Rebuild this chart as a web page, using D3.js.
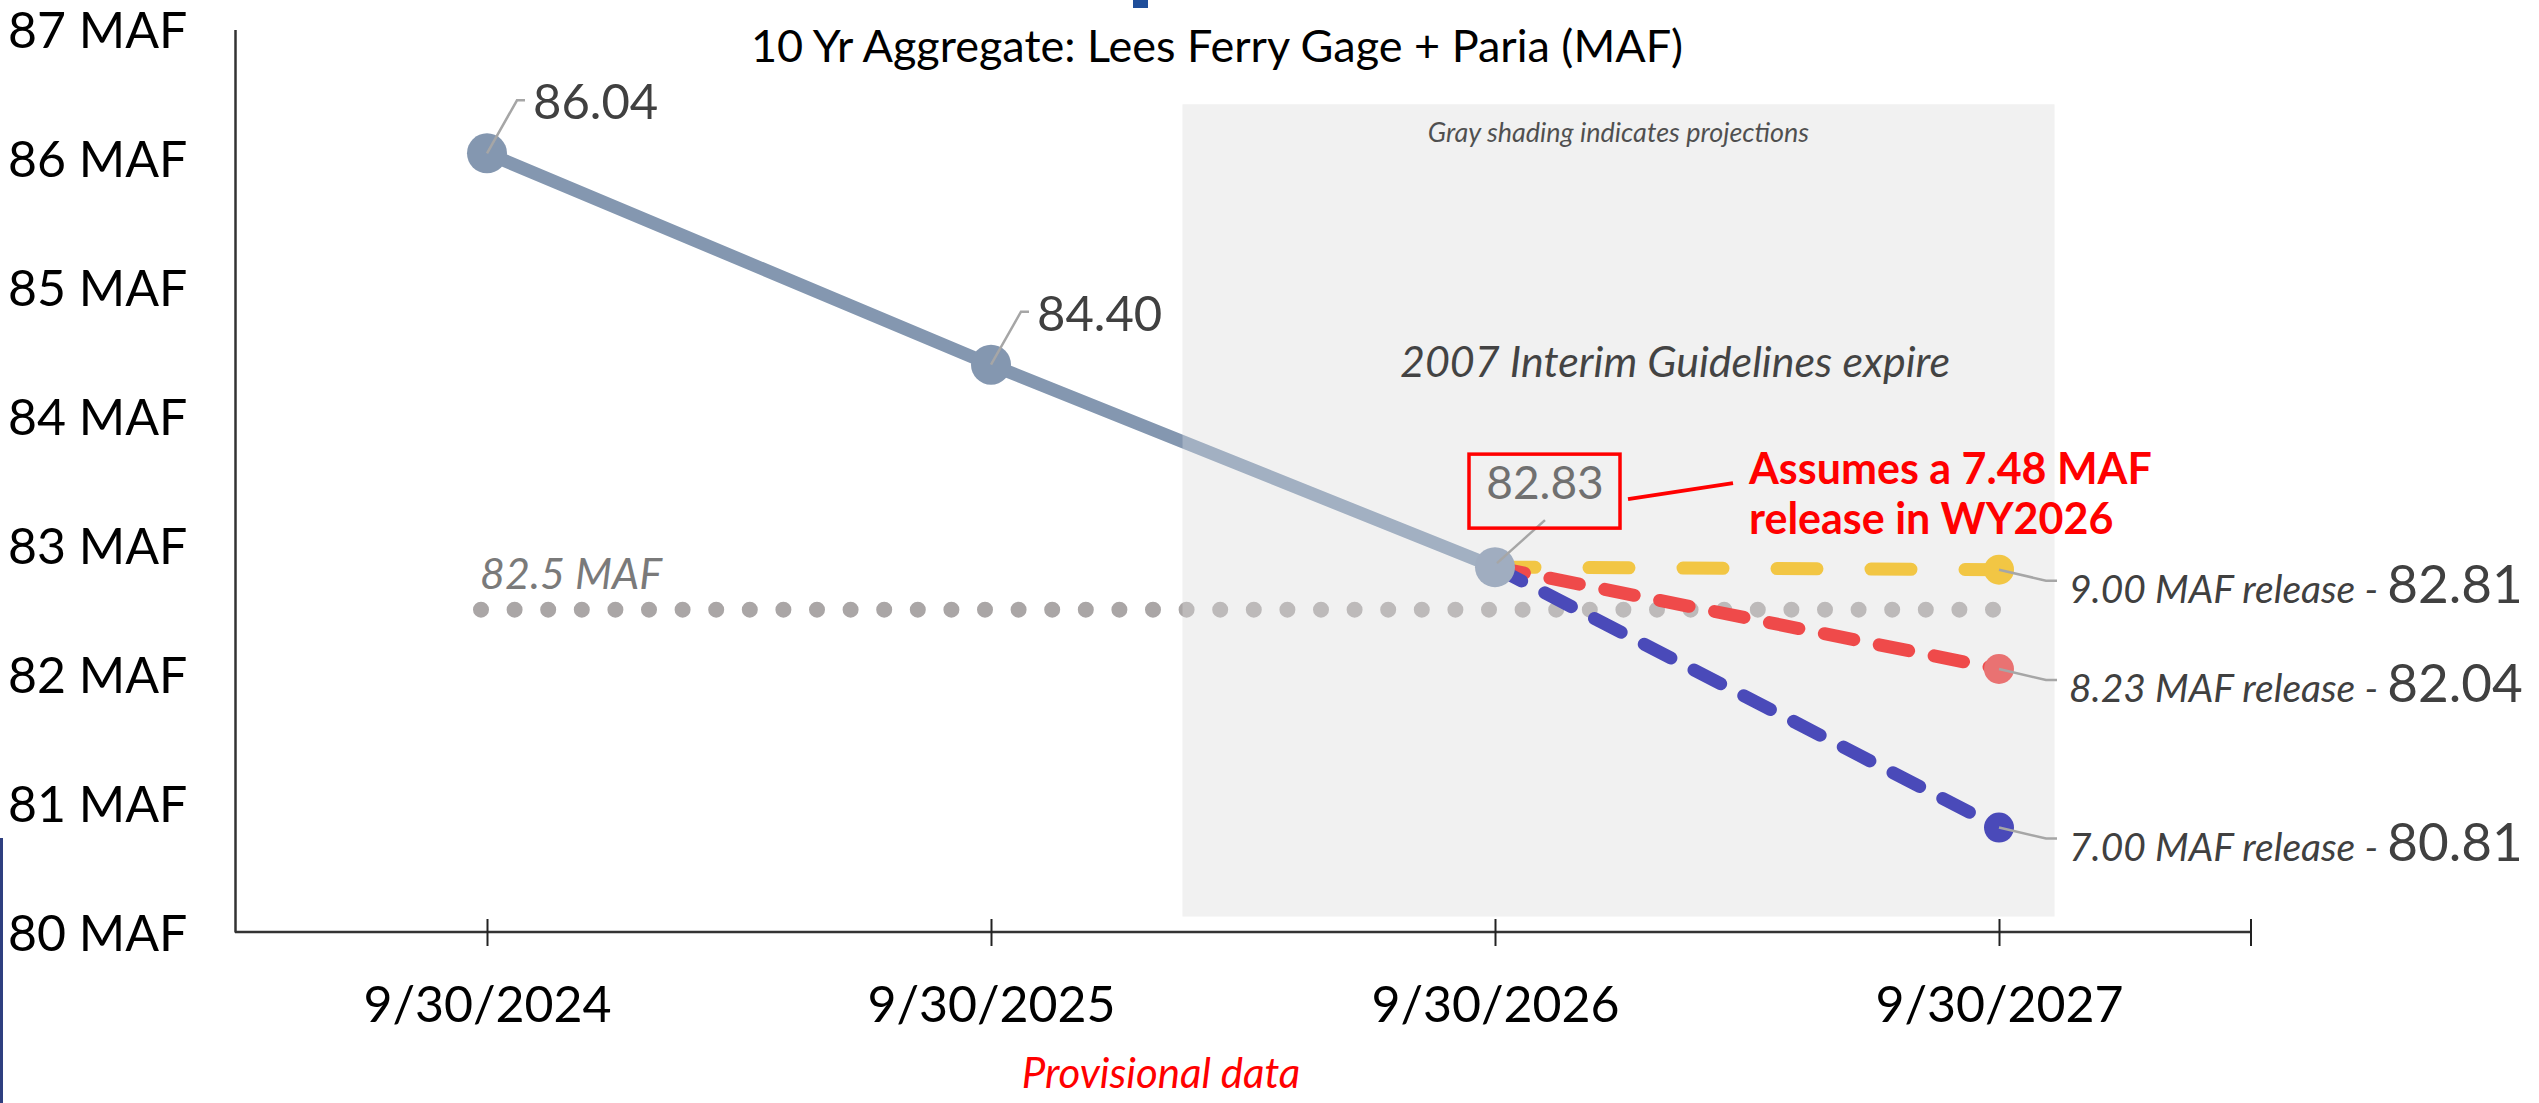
<!DOCTYPE html>
<html>
<head>
<meta charset="utf-8">
<script src="https://cdn.jsdelivr.net/npm/d3@7"></script>
<style>
  body { margin: 0; background: #fff; }
  svg { display: block; font-family: Lato, "Open Sans", sans-serif; }
</style>
</head>
<body>
<div id="chart"></div>
<script>
// data
var years = ['9/30/2024', '9/30/2025', '9/30/2026', '9/30/2027'];
var historical = [86.04, 84.40, 82.83];
var yTicks = [80, 81, 82, 83, 84, 85, 86, 87];
var threshold = 82.5;
var releases = ['9.00', '8.23', '7.00'];
var endValues = [82.81, 82.04, 80.81];
var scenarioColors = ['#f2c644', '#ef4a4a', '#4a4ab9'];
var endDotColors = ['#f2c644', '#e97272', '#4a4ab9'];

var w = 2539;
var h = 1103;

var svg = d3.select('#chart')
  .append('svg')
    .attr('width', w)
    .attr('height', h);

var x = d3.scalePoint()
  .domain(years)
  .range([235, 2251])
  .padding(0.5);

var y = d3.scaleLinear()
  .domain([80, 87])
  .range([932, 29.5]);

var step = x.step();

// slide leftovers
svg.append('rect')
  .attr('x', 1133).attr('y', 0).attr('width', 15).attr('height', 8)
  .attr('fill', '#1f4e9a');
svg.append('line')
  .attr('x1', 1.5).attr('x2', 1.5).attr('y1', 838).attr('y2', h)
  .attr('stroke', '#2f3f80').attr('stroke-width', 3);

// projection shading
var shade = {
  x0: x(years[2]) - 0.62 * step,
  x1: x(years[3]) + 0.11 * step,
  y0: y(86.42),
  y1: y(80.12)
};
svg.append('rect')
  .attr('x', shade.x0).attr('y', shade.y0)
  .attr('width', shade.x1 - shade.x0).attr('height', shade.y1 - shade.y0)
  .attr('fill', '#f2f2f2');

svg.append('text')
  .attr('x', (shade.x0 + shade.x1) / 2)
  .attr('y', 142)
  .attr('text-anchor', 'middle')
  .style('font-size', '27px')
  .style('font-style', 'italic')
  .attr('fill', '#111')
  .text('Gray shading indicates projections');

svg.append('text')
  .attr('x', 1675)
  .attr('y', 377)
  .attr('text-anchor', 'middle')
  .style('font-size', '43px')
  .style('font-style', 'italic')
  .attr('fill', '#000')
  .text('2007 Interim Guidelines expire');

// title
svg.append('text')
  .attr('x', 1217)
  .attr('y', 62)
  .attr('text-anchor', 'middle')
  .style('font-size', '45px')
  .attr('fill', '#000')
  .text('10 Yr Aggregate: Lees Ferry Gage + Paria (MAF)');

// axes
var xAxis = d3.axisBottom(x)
  .tickSizeInner(14)
  .tickSizeOuter(0)
  .tickPadding(0);

var xg = svg.append('g')
  .attr('transform', 'translate(0,' + y(80) + ')')
  .call(xAxis);
xg.select('.domain').attr('d', 'M235,0H2251').attr('stroke', '#333').attr('stroke-width', 2.5);
xg.selectAll('.tick line').attr('y1', -13).attr('y2', 14).attr('stroke', '#222').attr('stroke-width', 2);
xg.selectAll('.tick text')
  .attr('y', 90).attr('dy', 0)
  .style('font-size', '50px')
  .style('font-family', 'Lato, sans-serif')
  .attr('fill', '#000');
xg.append('line')
  .attr('x1', 2251).attr('x2', 2251).attr('y1', -13).attr('y2', 14)
  .attr('stroke', '#222').attr('stroke-width', 2);

var yAxis = d3.axisLeft(y)
  .tickValues(yTicks)
  .tickSize(0)
  .tickFormat(d => d + ' MAF');

var yg = svg.append('g')
  .attr('transform', 'translate(235,0)')
  .call(yAxis);
yg.select('.domain').attr('stroke', '#333').attr('stroke-width', 2.5);
yg.selectAll('.tick text')
  .attr('x', -227).attr('dy', '0.36em')
  .attr('text-anchor', 'start')
  .style('font-size', '50px')
  .style('font-family', 'Lato, sans-serif')
  .attr('fill', '#000');

// 82.5 MAF threshold dots
svg.append('line')
  .attr('x1', x(years[0]) - 6).attr('x2', x(years[3]))
  .attr('y1', y(threshold)).attr('y2', y(threshold))
  .attr('stroke', '#aaa6a6')
  .attr('stroke-width', 16)
  .attr('stroke-linecap', 'round')
  .attr('stroke-dasharray', '0 33.6');

svg.append('text')
  .attr('x', 480)
  .attr('y', y(threshold) - 21)
  .style('font-size', '43px')
  .style('font-style', 'italic')
  .attr('fill', '#7a7a7a')
  .text(threshold + ' MAF');

// historical line
var histData = historical.map((v, i) => ({ year: years[i], value: v }));

var line = d3.line()
  .x(d => x(d.year))
  .y(d => y(d.value));

svg.append('path')
  .datum(histData)
  .attr('d', line)
  .attr('fill', 'none')
  .attr('stroke', '#8497b0')
  .attr('stroke-width', 13);

// veil over what sits inside the projection box
svg.append('rect')
  .attr('x', shade.x0).attr('y', shade.y0)
  .attr('width', shade.x1 - shade.x0).attr('height', shade.y1 - shade.y0)
  .attr('fill', '#f2f2f2')
  .attr('opacity', 0.28);

// scenario projections
var scenarios = releases.map((r, i) => ({
  release: r,
  value: endValues[i],
  color: scenarioColors[i],
  dot: endDotColors[i],
  pts: [{ year: years[2], value: historical[2] }, { year: years[3], value: endValues[i] }]
}));

svg.selectAll('.scenario')
  .data(scenarios)
  .enter()
  .append('path')
    .attr('class', 'scenario')
    .attr('d', d => line(d.pts))
    .attr('fill', 'none')
    .attr('stroke', d => d.color)
    .attr('stroke-width', 13)
    .attr('stroke-linecap', 'round')
    .attr('stroke-dasharray', (d, i) => i == 0 ? '40 54' : '30 26');

svg.selectAll('.end-dot')
  .data(scenarios)
  .enter()
  .append('circle')
    .attr('class', 'end-dot')
    .attr('cx', x(years[3]))
    .attr('cy', d => y(d.value))
    .attr('r', 15)
    .attr('fill', d => d.dot);

// scenario labels with leaders
svg.selectAll('.end-leader')
  .data(scenarios)
  .enter()
  .append('polyline')
    .attr('class', 'end-leader')
    .attr('points', d => {
      var cx = x(years[3]), cy = y(d.value);
      return [[cx, cy], [cx + 47, cy + 11], [cx + 58, cy + 11]].join(' ');
    })
    .attr('fill', 'none')
    .attr('stroke', '#a6a6a6')
    .attr('stroke-width', 2.5);

var endLabels = svg.selectAll('.end-label')
  .data(scenarios)
  .enter()
  .append('text')
    .attr('class', 'end-label')
    .attr('x', x(years[3]) + 70)
    .attr('y', d => y(d.value) + 33)
    .attr('fill', '#404040');

endLabels.append('tspan')
  .style('font-size', '39px')
  .style('font-style', 'italic')
  .text(d => d.release + ' MAF release - ');

endLabels.append('tspan')
  .style('font-size', '53px')
  .text(d => d.value.toFixed(2));

// historical points and labels
svg.selectAll('.hist-dot')
  .data(histData)
  .enter()
  .append('circle')
    .attr('class', 'hist-dot')
    .attr('cx', d => x(d.year))
    .attr('cy', d => y(d.value))
    .attr('r', 20)
    .attr('fill', d => x(d.year) > shade.x0 ? '#a0adc0' : '#8497b0');

svg.selectAll('.hist-leader')
  .data(histData.slice(0, 2))
  .enter()
  .append('polyline')
    .attr('class', 'hist-leader')
    .attr('points', d => {
      var cx = x(d.year), cy = y(d.value);
      return [[cx, cy], [cx + 30, cy - 53], [cx + 38, cy - 53]].join(' ');
    })
    .attr('fill', 'none')
    .attr('stroke', '#a6a6a6')
    .attr('stroke-width', 2.5);

svg.selectAll('.hist-label')
  .data(histData.slice(0, 2))
  .enter()
  .append('text')
    .attr('class', 'hist-label')
    .attr('x', d => x(d.year) + 46)
    .attr('y', d => y(d.value) - 34)
    .style('font-size', '49px')
    .attr('fill', '#404040')
    .text(d => d.value.toFixed(2));

// boxed label for the last observed point
var last = histData[2];
var bx = x(last.year) + 50, by = y(last.value) - 76;

svg.append('line')
  .attr('x1', x(last.year) + 2).attr('y1', y(last.value) - 4)
  .attr('x2', bx).attr('y2', by + 29)
  .attr('stroke', '#a6a6a6').attr('stroke-width', 2.5);

svg.append('rect')
  .attr('x', bx - 76).attr('y', by - 37)
  .attr('width', 151).attr('height', 74)
  .attr('fill', 'none')
  .attr('stroke', '#ff0000')
  .attr('stroke-width', 3.5);

svg.append('text')
  .attr('x', bx)
  .attr('y', by + 8)
  .attr('text-anchor', 'middle')
  .style('font-size', '46px')
  .attr('fill', '#707070')
  .text(last.value.toFixed(2));

svg.append('line')
  .attr('x1', bx + 83).attr('y1', by + 8)
  .attr('x2', bx + 188).attr('y2', by - 8)
  .attr('stroke', '#ff0000').attr('stroke-width', 4);

var note = svg.append('text')
  .attr('x', bx + 204)
  .attr('y', by - 7)
  .style('font-size', '43px')
  .style('font-weight', 'bold')
  .attr('fill', '#ff0000');
note.append('tspan').text('Assumes a 7.48 MAF');
note.append('tspan').attr('x', bx + 204).attr('dy', 50).text('release in WY2026');

// footnote
svg.append('text')
  .attr('x', 1161)
  .attr('y', 1088)
  .attr('text-anchor', 'middle')
  .style('font-size', '42px')
  .style('font-style', 'italic')
  .attr('fill', '#ff0000')
  .text('Provisional data');
</script>
</body>
</html>
